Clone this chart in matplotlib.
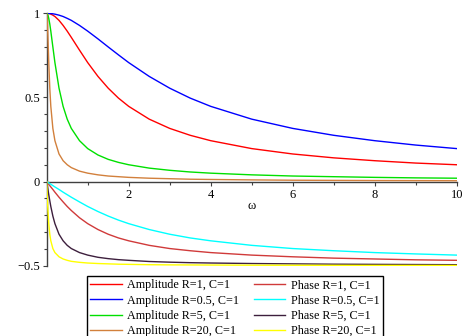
import numpy as np
from matplotlib import pyplot as plt
from matplotlib.ticker import MultipleLocator

plt.rcParams['font.family'] = ['Liberation Serif', 'DejaVu Serif']

# values
omega = [0, 0.01, 0.02, 0.03, 0.05, 0.075, 0.1, 0.15, 0.2, 0.3, 0.4, 0.5, 0.6, 0.8, 1.0,
         1.25, 1.5, 1.75, 2, 2.5, 3, 3.5, 4, 5, 6, 7, 8, 9, 10]

amp_r1 = [1, 1.0, 1.0, 1.0, 0.999, 0.997, 0.995, 0.989, 0.981, 0.958, 0.928, 0.894, 0.857, 0.781, 0.707,
          0.625, 0.555, 0.496, 0.447, 0.371, 0.316, 0.275, 0.243, 0.196, 0.164, 0.141, 0.124, 0.110, 0.100]
amp_r05 = [1, 1, 1, 1, 1.0, 0.999, 0.999, 0.997, 0.995, 0.989, 0.981, 0.970, 0.958, 0.928, 0.894,
           0.848, 0.800, 0.753, 0.707, 0.625, 0.555, 0.496, 0.447, 0.371, 0.316, 0.275, 0.243, 0.217, 0.196]
amp_r5 = [1, 0.999, 0.995, 0.989, 0.970, 0.936, 0.894, 0.800, 0.707, 0.555, 0.447, 0.371, 0.316, 0.243, 0.196,
          0.158, 0.132, 0.114, 0.100, 0.080, 0.067, 0.057, 0.050, 0.040, 0.033, 0.029, 0.025, 0.022, 0.020]
amp_r20 = [1, 0.981, 0.928, 0.857, 0.707, 0.555, 0.447, 0.316, 0.243, 0.164, 0.124, 0.100, 0.083, 0.062, 0.050,
           0.040, 0.033, 0.029, 0.025, 0.020, 0.017, 0.014, 0.0125, 0.010, 0.008, 0.007, 0.006, 0.0055, 0.005]

ph_r1 = [0, -0.003, -0.006, -0.010, -0.016, -0.024, -0.032, -0.047, -0.063, -0.093, -0.121, -0.148, -0.172, -0.215, -0.250,
         -0.285, -0.313, -0.335, -0.352, -0.379, -0.398, -0.411, -0.422, -0.437, -0.447, -0.455, -0.460, -0.465, -0.468]
ph_r05 = [0, -0.0016, -0.0032, -0.0048, -0.008, -0.012, -0.016, -0.024, -0.032, -0.047, -0.063, -0.078, -0.093, -0.121, -0.148,
          -0.178, -0.205, -0.229, -0.250, -0.285, -0.313, -0.335, -0.352, -0.379, -0.398, -0.411, -0.422, -0.430, -0.437]
ph_r5 = [0, -0.016, -0.032, -0.047, -0.078, -0.114, -0.148, -0.205, -0.250, -0.313, -0.352, -0.379, -0.398, -0.422, -0.437,
         -0.450, -0.458, -0.464, -0.468, -0.475, -0.479, -0.482, -0.484, -0.487, -0.489, -0.491, -0.492, -0.493, -0.494]
ph_r20 = [0, -0.063, -0.121, -0.172, -0.250, -0.313, -0.352, -0.398, -0.422, -0.447, -0.460, -0.468, -0.474, -0.480, -0.484,
          -0.487, -0.489, -0.491, -0.492, -0.494, -0.495, -0.4955, -0.496, -0.497, -0.4974, -0.4977, -0.498, -0.4982, -0.4984]

labels = ['Amplitude R=1, C=1', 'Phase R=1, C=1',
          'Amplitude R=0.5, C=1', 'Phase R=0.5, C=1',
          'Amplitude R=5, C=1', 'Phase R=5, C=1',
          'Amplitude R=20, C=1', 'Phase R=20, C=1']
series = [amp_r1, ph_r1, amp_r05, ph_r05, amp_r5, ph_r5, amp_r20, ph_r20]
colors = ['#ff0000', '#d03a3a', '#0000ff', '#00ffff', '#00e000', '#3d1f3d', '#d2803c', '#ffff00']

fig = plt.figure(figsize=(4.69, 3.36), dpi=100)
ax = fig.add_axes([0.0996, 0.2092, 0.8742, 0.7512])

lines = []
for ys, c, lab in zip(series, colors, labels):
    l, = ax.plot(omega, ys, color=c, lw=1.0, label=lab)
    lines.append(l)

ax.set_xlim(0, 10)
ax.set_ylim(-0.5, 1)
ax.spines['top'].set_visible(False)
ax.spines['right'].set_visible(False)
ax.spines['left'].set_position(('data', 0))
ax.spines['bottom'].set_position(('data', 0))
for s in ['left', 'bottom']:
    ax.spines[s].set_linewidth(1.0)
    ax.spines[s].set_color('#404040')
    ax.spines[s].set_zorder(1)

ax.set_xticks([2, 4, 6, 8, 10])
ax.set_xticklabels(['2', '4', '6', '8', '10'])
ax.xaxis.set_minor_locator(MultipleLocator(1))
ax.set_yticks([-0.5, 0, 0.5, 1])
ax.set_yticklabels(['\u22120.5', '0', '0.5', '1'])
ax.yaxis.set_minor_locator(MultipleLocator(0.1))
ax.tick_params(which='major', length=3, width=0.8, labelsize=9, pad=2, color='#404040')
ax.tick_params(which='minor', length=2, width=0.8, color='#404040')

ax.text(5, -0.145, '\u03c9', ha='center', va='center', fontsize=9)

# legend (two columns, partly cut by figure bottom)
fig.legend(handles=lines[0::2] + lines[1::2], labels=labels[0::2] + labels[1::2],
           ncol=2, loc='upper left', bbox_to_anchor=(0.185, 0.1795),
           fontsize=8.7, frameon=True, fancybox=False, edgecolor='black',
           framealpha=1, borderaxespad=0, borderpad=0.3, labelspacing=0.27,
           handlelength=2.6, handletextpad=0.45, columnspacing=1.2)

fig.savefig('out.png', dpi=100)
